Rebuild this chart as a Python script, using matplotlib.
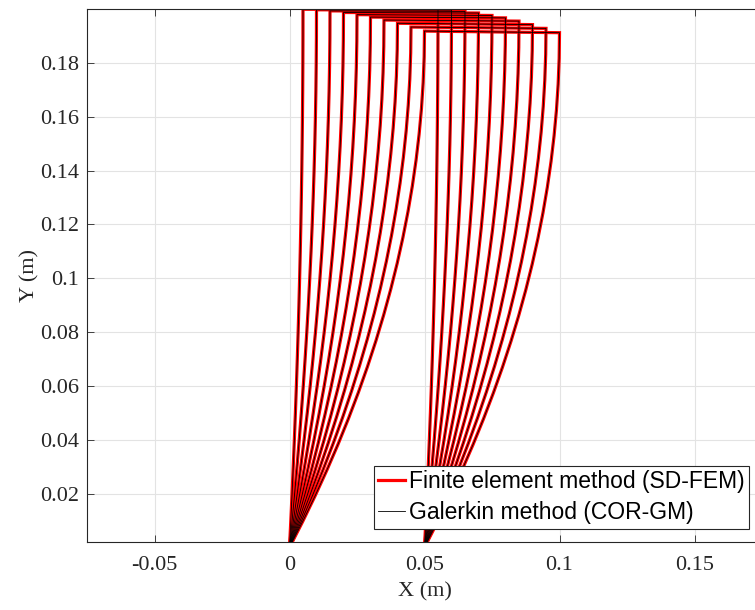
import matplotlib
matplotlib.use("Agg")
import matplotlib.pyplot as plt
import numpy as np

# tip displacement of each shape (m), read at the top-left corners
tip_dx = [0.005, 0.010, 0.015, 0.020, 0.025, 0.030, 0.035, 0.040, 0.045, 0.050]
# height of top-left and top-right corners (m)
top_left = [0.1999, 0.1997, 0.1993, 0.1987, 0.1979, 0.1970, 0.1959, 0.1947, 0.1933, 0.1918]
top_right = [0.1998, 0.1996, 0.1991, 0.1985, 0.1976, 0.1967, 0.1955, 0.1942, 0.1928, 0.1912]
width = 0.05

# normalised side-edge shape (fraction of tip displacement vs fraction of height)
prof_t = [0, 0.05, 0.1, 0.15, 0.2, 0.25, 0.3, 0.35, 0.4, 0.45, 0.5,
          0.55, 0.6, 0.65, 0.7, 0.75, 0.8, 0.85, 0.9, 0.95, 1.0]
prof_x = [0, 0.0975, 0.19, 0.2775, 0.36, 0.4375, 0.51, 0.5775, 0.64, 0.6975, 0.75,
          0.7975, 0.84, 0.8775, 0.91, 0.9375, 0.96, 0.9775, 0.99, 0.9975, 1.0]

xticks = [-0.05, 0, 0.05, 0.1, 0.15]
yticks = [0.02, 0.04, 0.06, 0.08, 0.1, 0.12, 0.14, 0.16, 0.18]

serif = "Liberation Serif"
sans = "Liberation Sans"

fig = plt.figure(figsize=(7.55, 6.10), dpi=100)
ax = fig.add_axes([87 / 755, 68 / 610, 675 / 755, 533 / 610])

pt = np.array(prof_t)
px = np.array(prof_x)


def outline(d, hl, hr):
    # left edge up, top edge, right edge down, bottom
    xs = np.concatenate([d * px, width + d * px[::-1], [0]])
    ys = np.concatenate([pt * hl, pt[::-1] * hr, [0]])
    return xs, ys


for d, hl, hr in zip(tip_dx, top_left, top_right):
    xs, ys = outline(d, hl, hr)
    ax.plot(xs, ys, color=(1, 0, 0), lw=2.3, solid_joinstyle="miter")

for d, hl, hr in zip(tip_dx, top_left, top_right):
    xs, ys = outline(d, hl, hr)
    ax.plot(xs, ys, color="k", lw=0.6)

ax.plot([], [], color=(1, 0, 0), lw=2.3, label="Finite element method (SD-FEM)")
ax.plot([], [], color="k", lw=0.6, label="Galerkin method (COR-GM)")

ax.set_xlim(-0.075, 0.175)
ax.set_ylim(0.002, 0.2)
ax.set_xticks(xticks)
ax.set_yticks(yticks)
ax.set_xticklabels([f"{v:g}" for v in xticks], family=serif, fontsize=16)
ax.set_yticklabels([f"{v:g}" for v in yticks], family=serif, fontsize=16)
ax.tick_params(axis="x", pad=10)
ax.tick_params(axis="y", pad=6)
ax.tick_params(direction="in", length=5, width=0.6, colors="#262626", top=True, right=True)
ax.grid(True, color="#e3e3e3", lw=0.8)
ax.set_axisbelow(True)
for s in ax.spines.values():
    s.set_color("#262626")
    s.set_linewidth(0.8)

ax.set_xlabel("X (m)", family=serif, fontsize=16, color="#262626", labelpad=5)
ax.set_ylabel("Y (m)", family=serif, fontsize=16, color="#262626", labelpad=0)

leg = ax.legend(loc="lower right", bbox_to_anchor=(749 / 755, (610 - 529) / 610),
                bbox_transform=fig.transFigure, prop={"family": sans, "size": 16.5},
                fancybox=False, framealpha=1, edgecolor="#262626",
                handlelength=1.15, handletextpad=0.18, borderpad=0.2,
                labelspacing=0.35, borderaxespad=0)
leg.get_frame().set_linewidth(0.8)

fig.savefig("out.png", dpi=100)
